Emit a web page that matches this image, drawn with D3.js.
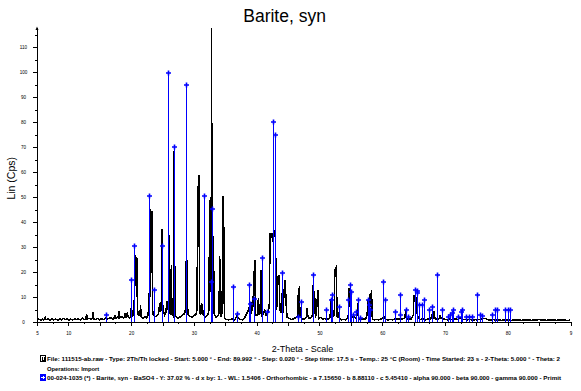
<!DOCTYPE html>
<html><head><meta charset="utf-8">
<script src="https://cdn.jsdelivr.net/npm/d3@7"></script>
<style>
html,body{margin:0;padding:0;background:#fff;}
svg{display:block;font-family:"Liberation Sans",Arial,sans-serif;}
</style>
</head><body>
<svg id="chart" width="581" height="391"></svg>
<script>
// ---- data ----
const titleText = "Barite, syn";
const yAxisTitle = "Lin (Cps)";
const xAxisTitle = "2-Theta - Scale";

// measured pattern: [2-theta, counts]
const measuredPattern = [
[5.00,0.8],[5.30,1.3],[5.60,0.9],[5.90,1.4],[6.10,1.0],[6.30,2.0],[6.45,1.1],[6.80,1.5],[7.10,0.9],[7.40,1.4],
[7.70,1.0],[8.00,1.3],[8.30,0.8],[8.60,1.5],[8.90,1.0],[9.20,1.6],[9.50,1.1],[9.80,1.4],[10.10,0.9],[10.40,1.3],
[10.70,1.0],[11.00,1.5],[11.30,1.1],[11.60,1.4],[11.90,1.0],[12.20,1.7],[12.50,1.1],[12.80,1.5],[12.90,3.3],[13.00,1.3],
[13.30,1.6],[13.60,1.2],[13.85,1.8],[13.95,4.1],[14.05,1.4],[14.40,1.2],[14.70,1.6],[15.00,1.0],[15.30,1.5],[15.60,1.2],
[15.90,1.7],[16.20,1.3],[16.50,1.6],[16.80,2.0],[17.10,1.3],[17.30,1.8],[17.40,3.1],[17.50,1.6],[17.80,2.2],[18.00,1.8],
[18.10,4.7],[18.20,1.9],[18.50,2.3],[18.80,1.7],[18.95,2.2],[19.00,3.8],[19.10,2.0],[19.30,2.1],[19.40,4.0],[19.50,2.2],
[19.75,1.6],[19.95,2.5],[20.05,7.1],[20.15,2.4],[20.35,2.8],[20.50,9.0],[20.60,16.4],[20.75,26.2],[20.90,25.7],[21.00,4.5],
[21.15,2.6],[21.30,4.7],[21.40,2.5],[21.50,7.1],[21.60,2.2],[21.90,1.6],[22.20,2.2],[22.50,1.8],[22.70,4.0],[22.85,2.8],
[22.95,26.4],[23.02,10.0],[23.10,45.5],[23.20,30.0],[23.30,44.4],[23.40,5.8],[23.50,3.0],[23.80,2.2],[24.10,2.8],[24.35,3.2],
[24.55,7.8],[24.70,4.0],[24.85,10.0],[24.92,37.5],[25.00,8.4],[25.10,5.0],[25.35,3.0],[25.55,4.2],[25.70,8.7],[25.80,5.0],
[25.93,9.0],[26.00,35.1],[26.08,4.0],[26.30,3.5],[26.40,23.1],[26.48,3.5],[26.65,2.8],[26.80,20.0],[26.87,69.0],[26.93,30.0],
[27.00,3.0],[27.20,2.0],[27.50,1.6],[27.80,2.2],[28.10,2.8],[28.40,3.2],[28.60,4.2],[28.75,8.0],[28.82,42.8],[28.90,8.0],
[29.00,5.8],[29.10,3.0],[29.40,2.4],[29.70,2.0],[30.00,2.6],[30.30,3.2],[30.50,5.0],[30.60,54.4],[30.72,30.0],[30.80,58.8],
[30.90,4.0],[31.05,3.0],[31.20,7.8],[31.28,3.5],[31.35,7.5],[31.45,3.0],[31.65,2.6],[31.90,2.2],[32.20,3.0],[32.40,5.0],
[32.50,49.1],[32.60,12.0],[32.75,20.0],[32.80,118.0],[32.86,64.4],[32.95,64.4],[33.03,20.0],[33.12,33.4],[33.22,3.5],[33.50,2.0],
[33.80,2.5],[34.00,3.5],[34.10,26.4],[34.25,17.1],[34.35,2.2],[34.50,4.0],[34.60,50.4],[34.75,40.0],[34.85,2.0],[35.10,1.2],
[35.50,1.0],[35.90,1.2],[36.20,1.5],[36.50,1.0],[36.80,2.5],[37.10,1.5],[37.40,1.2],[37.70,1.0],[38.00,1.5],[38.30,3.0],
[38.55,4.2],[38.75,5.5],[39.00,5.0],[39.20,4.0],[39.35,10.4],[39.50,6.0],[39.62,21.1],[39.75,25.1],[39.85,3.0],[40.10,3.0],
[40.28,9.8],[40.40,3.0],[40.55,4.0],[40.65,21.1],[40.75,2.5],[41.00,3.0],[41.30,5.0],[41.50,3.0],[41.80,4.0],[42.00,6.0],
[42.15,35.8],[42.30,34.0],[42.40,35.8],[42.55,32.4],[42.70,34.0],[42.85,36.4],[43.00,37.1],[43.12,5.0],[43.30,8.0],[43.38,18.4],
[43.50,15.0],[43.58,19.1],[43.70,5.0],[43.90,4.0],[44.00,11.8],[44.10,5.0],[44.25,4.0],[44.35,12.4],[44.55,16.8],[44.70,7.1],
[44.85,2.0],[45.20,1.5],[45.60,1.2],[46.00,1.6],[46.30,2.0],[46.55,3.0],[46.65,13.1],[46.80,13.8],[46.90,2.5],[47.20,1.4],
[47.60,1.2],[47.90,2.0],[48.05,5.8],[48.15,2.5],[48.40,1.5],[48.70,2.0],[48.90,3.0],[49.00,15.1],[49.10,6.0],[49.22,12.4],
[49.35,2.0],[49.50,3.0],[49.58,9.4],[49.68,6.0],[49.78,13.1],[49.90,1.5],[50.20,2.0],[50.50,1.2],[50.80,1.5],[51.10,1.2],
[51.40,1.3],[51.70,2.0],[51.85,9.0],[51.95,9.0],[52.10,2.0],[52.35,3.0],[52.45,21.4],[52.60,18.0],[52.70,23.1],[52.80,2.0],
[53.00,3.5],[53.20,1.5],[53.50,1.0],[53.80,1.2],[54.10,1.0],[54.40,1.5],[54.60,3.0],[54.75,13.8],[54.85,13.0],[54.95,2.0],
[55.20,2.0],[55.50,2.5],[55.80,1.5],[56.00,3.0],[56.10,7.8],[56.20,1.5],[56.50,1.2],[56.80,1.5],[57.10,1.2],[57.40,1.5],
[57.60,3.0],[57.70,9.0],[57.85,3.0],[58.00,5.0],[58.10,11.8],[58.22,10.0],[58.30,12.8],[58.42,1.5],[58.70,1.0],[59.00,1.2],
[59.40,1.0],[59.80,1.3],[60.10,2.0],[60.25,2.5],[60.50,1.2],[60.90,1.0],[61.30,1.2],[61.70,1.0],[62.10,1.5],[62.50,1.2],
[62.90,1.5],[63.20,1.3],[63.60,1.8],[63.75,5.0],[63.90,1.5],[64.20,1.2],[64.60,1.4],[64.95,3.0],[65.05,11.1],[65.20,8.0],
[65.30,11.8],[65.45,6.0],[65.60,3.0],[65.80,1.5],[66.10,1.2],[66.50,1.5],[66.90,1.0],[67.30,1.5],[67.70,1.2],[67.95,3.0],
[68.10,1.6],[68.25,4.4],[68.40,1.5],[68.80,1.2],[69.10,1.5],[69.25,3.0],[69.35,1.8],[69.60,1.5],[70.00,1.2],[70.40,1.0],
[70.80,1.4],[71.20,1.1],[71.60,1.5],[72.00,1.2],[72.40,1.8],[72.80,1.3],[73.20,1.1],[73.60,1.0],[74.00,1.2],[74.40,0.9],
[74.80,1.1],[75.20,1.0],[75.60,1.2],[76.00,1.4],[76.30,1.6],[76.60,1.4],[77.00,1.0],[77.40,0.9],[77.80,1.1],[78.20,0.9],
[78.60,1.0],[79.00,0.8],[79.40,1.0],[79.80,0.9],[80.20,1.0],[80.60,0.8],[81.00,1.1],[81.40,0.9],[81.80,1.0],[82.20,0.8],
[82.60,1.0],[83.00,0.9],[83.40,1.1],[83.80,0.8],[84.20,1.0],[84.60,0.9],[85.00,1.2],[85.40,0.9],[85.80,1.0],[86.20,0.8],
[86.60,1.0],[87.00,0.9],[87.40,1.0],[87.80,0.8],[88.20,1.0],[88.60,0.9],[89.00,1.0],[89.40,0.8],[89.99,0.9]
];

// reference card 00-024-1035 stick pattern
const refAngles = [16.0,20.05,20.5,22.9,23.65,24.9,25.9,26.9,28.8,31.6,32.8,32.9,36.2,36.8,38.7,39.0,39.5,40.9,41.7,42.6,
  42.9,44.0,46.6,47.0,49.0,51.0,51.9,52.0,53.1,54.5,54.8,55.0,55.3,55.9,56.1,56.5,57.7,57.9,58.1,60.2,
  60.5,62.0,62.8,62.9,63.8,64.1,65.3,65.5,65.6,65.8,66.4,66.6,67.5,67.9,68.7,69.6,70.5,70.8,71.1,71.3,
  72.1,72.5,72.7,73.4,73.8,74.3,75.1,75.6,75.9,77.5,78.0,78.3,79.5,80.0,80.4];
const refIntensities = [3.1,17.1,30.7,50.7,13.1,30.4,99.9,70.3,95.0,50.6,16.3,45.5,14.1,3.4,15.1,7.4,9.2,25.9,4.3,80.2,
  75.1,19.9,2.0,8.2,19.1,5.1,9.1,11.1,6.0,9.1,15.1,12.1,3.1,4.1,9.1,1.7,9.1,7.1,5.1,16.0,
  9.1,4.1,3.1,11.1,5.1,2.1,13.1,12.4,11.7,7.1,7.1,9.1,5.1,6.1,19.1,5.1,2.1,3.1,3.7,5.1,
  2.1,4.1,5.1,2.1,2.1,2.1,11.1,3.1,2.4,3.1,5.1,5.1,5.1,5.1,5.1];

const yMajorTicks = [0,10,20,30,40,50,60,70,80,90,100,110];
const yMinorTicks = [5,15,25,35,45,55,65,75,85,95,105,115];
const xLongTicks = [5,10,15,20,25,30,35,40,45,50,55,60,65,70,75,80,85,90];
const xShortTicks = [7.5,12.5,17.5,22.5,27.5,32.5,37.5,42.5,47.5,52.5,57.5,62.5,67.5,72.5,77.5,82.5,87.5];
const xLabelValues = [5,10,20,30,40,50,60,70,80,90];
const xLabelTexts = ["5","10","20","30","40","50","60","70","80","9"];

const legendLine1 = "File: 111515-ab.raw - Type: 2Th/Th locked - Start: 5.000 \u00b0 - End: 89.992 \u00b0 - Step: 0.020 \u00b0 - Step time: 17.5 s - Temp.: 25 \u00b0C (Room) - Time Started: 23 s - 2-Theta: 5.000 \u00b0 - Theta: 2";
const legendLine2 = "Operations: Import";
const legendLine3 = "00-024-1035 (*) - Barite, syn - BaSO4 - Y: 37.02 % - d x by: 1. - WL: 1.5406 - Orthorhombic - a 7.15650 - b 8.88110 - c 5.45410 - alpha 90.000 - beta 90.000 - gamma 90.000 - Primit";

// ---- drawing ----
const svg = d3.select("#chart");
svg.append("rect").attr("width",581).attr("height",391).attr("fill","#fff");

const x = d3.scaleLinear().domain([5,90]).range([37,570.5]);
const y = d3.scaleLinear().domain([0,117.8]).range([322.4,28]);

svg.append("defs").append("clipPath").attr("id","plotclip")
  .append("rect").attr("x",30).attr("y",28).attr("width",545).attr("height",294);

const plot = svg.append("g").attr("clip-path","url(#plotclip)");

// measured pattern
plot.append("path")
  .datum(measuredPattern)
  .attr("fill","none")
  .attr("stroke","#000")
  .attr("stroke-width",1.5)
  .attr("stroke-linejoin","miter")
  .attr("shape-rendering","crispEdges")
  .attr("d", d3.line().x(d=>x(d[0])).y(d=>y(d[1])));

// reference sticks
const refData = refAngles.map((a,i)=>({a, v:refIntensities[i]}));
plot.selectAll("line.stick").data(refData).join("line")
  .attr("class","stick")
  .attr("x1",d=>Math.round(x(d.a))+0.5).attr("x2",d=>Math.round(x(d.a))+0.5)
  .attr("y1",y(0)).attr("y2",d=>y(d.v))
  .attr("stroke","#0000ff").attr("stroke-width",1)
  .attr("shape-rendering","crispEdges");
svg.selectAll("path.mark").data(refData).join("path")
  .attr("class","mark")
  .attr("transform",d=>`translate(${Math.round(x(d.a))+0.5},${Math.round(y(d.v))})`)
  .attr("d","M-2.5,0H2.5M0,-2.5V2.5")
  .attr("stroke","#0000ff").attr("stroke-width",1.6).attr("fill","none");

// axes
const axisStyle = g => {
  g.selectAll("path,line").attr("stroke","#000").attr("shape-rendering","crispEdges");
};
svg.append("g").attr("transform","translate(37,0)")
  .call(d3.axisLeft(y).tickValues(yMajorTicks).tickSize(4).tickSizeOuter(0))
  .call(axisStyle)
  .call(g=>g.select(".domain").attr("d",`M0,${y(0)}V28`))
  .call(g=>g.selectAll("text").attr("x",-13.5).attr("text-anchor","middle")
        .attr("font-size",4.6).attr("font-family","Liberation Sans, Arial, sans-serif").attr("fill","#000"));
svg.append("g").attr("transform","translate(37,0)")
  .call(d3.axisLeft(y).tickValues(yMinorTicks).tickSize(2).tickFormat(""))
  .call(axisStyle)
  .call(g=>g.select(".domain").remove());
// small arrow at top of y axis
svg.append("path").attr("d","M37,26.5L35.5,30H38.5Z").attr("fill","#000");

svg.append("g").attr("transform",`translate(0,${y(0)})`)
  .call(d3.axisBottom(x).tickValues(xLongTicks).tickSize(4).tickSizeOuter(0)
        .tickFormat(d=>{const i=xLabelValues.indexOf(d); return i>=0?xLabelTexts[i]:"";}))
  .call(axisStyle)
  .call(g=>g.selectAll("text").attr("y",12.6).attr("dy",0)
        .attr("font-size",4.6).attr("font-family","Liberation Sans, Arial, sans-serif").attr("fill","#000"));
svg.append("g").attr("transform",`translate(0,${y(0)})`)
  .call(d3.axisBottom(x).tickValues(xShortTicks).tickSize(2).tickFormat(""))
  .call(axisStyle)
  .call(g=>g.select(".domain").remove());

// titles
svg.append("text").attr("x",284.6).attr("y",21.7).attr("text-anchor","middle")
  .attr("font-size",17.5).attr("fill","#000").text(titleText);
svg.append("text").attr("transform","translate(15,178.3) rotate(-90)").attr("text-anchor","middle")
  .attr("font-size",10.5).attr("fill","#000").text(yAxisTitle);
svg.append("text").attr("x",302.5).attr("y",352).attr("text-anchor","middle")
  .attr("font-size",9).attr("fill","#000").text(xAxisTitle);

// legend
const leg = svg.append("g");
leg.append("rect").attr("x",40.5).attr("y",355.5).attr("width",5).attr("height",6)
  .attr("fill","#fff").attr("stroke","#000").attr("stroke-width",1).attr("shape-rendering","crispEdges");
leg.append("path").attr("d","M42.5,356.5V360.5M44.5,356.5V359.5M41.5,360.5H44.5")
  .attr("stroke","#000").attr("stroke-width",1).attr("shape-rendering","crispEdges");
leg.append("rect").attr("x",40).attr("y",374).attr("width",6).attr("height",6.5)
  .attr("fill","#0000ff").attr("shape-rendering","crispEdges");
leg.append("path").attr("d","M43,375.5V379M41.3,377.2H44.7")
  .attr("stroke","#fff").attr("stroke-width",1).attr("shape-rendering","crispEdges");

const legFont = {size:5.8, weight:"bold"};
leg.append("text").attr("x",47).attr("y",361).attr("font-size",legFont.size).attr("font-weight",legFont.weight)
  .attr("textLength",513).attr("lengthAdjust","spacingAndGlyphs").text(legendLine1);
leg.append("text").attr("x",47).attr("y",371.3).attr("font-size",legFont.size).attr("font-weight",legFont.weight)
  .text(legendLine2);
leg.append("text").attr("x",47).attr("y",380).attr("font-size",legFont.size).attr("font-weight",legFont.weight)
  .attr("textLength",514).attr("lengthAdjust","spacingAndGlyphs").text(legendLine3);
</script>
</body></html>
